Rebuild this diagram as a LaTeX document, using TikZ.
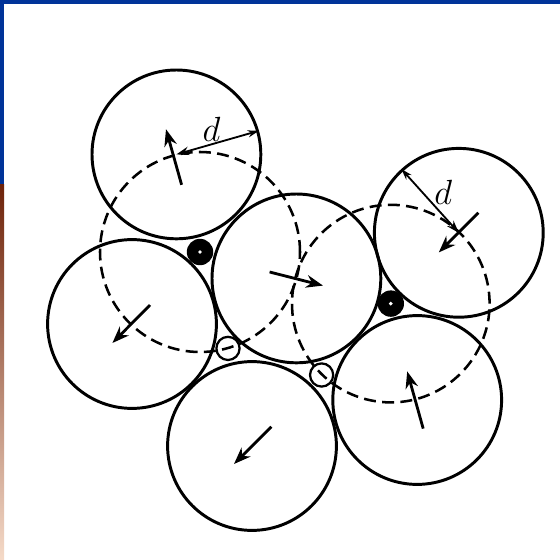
\documentclass[tikz,border=0pt]{standalone}
\usepackage{amsmath}
\usetikzlibrary{arrows.meta}

\definecolor{slideblue}{RGB}{0,51,153}
\definecolor{photobrown}{RGB}{110,35,10}
\definecolor{photomid}{RGB}{195,100,45}
\definecolor{photopeach}{RGB}{245,218,200}

\begin{document}
\begin{tikzpicture}[
    particle/.style={draw, circle, line width=2.1pt, minimum size=4.22cm, inner sep=0pt},
    bond/.style={line width=1.8pt, dash pattern=on 8.5pt off 4.5pt},
    vel/.style={-{Stealth[length=12pt,width=9pt]}, line width=2pt},
    dim/.style={{Stealth[length=9pt,width=6pt]}-{Stealth[length=8pt,width=5pt]}, line width=1.3pt},
    hole/.style={draw, circle, line width=1.6pt, minimum size=0.58cm, inner sep=0pt},
    fullhole/.style={fill=black, circle, minimum size=0.66cm, inner sep=0pt},
    lbl/.style={font=\fontsize{25}{28}\selectfont, inner sep=0pt}
]
\useasboundingbox (0,0) rectangle (14,-14);
% slide frame
\fill[slideblue] (0,0) rectangle (14,-0.11);
\fill[slideblue] (0,0) rectangle (0.1,-4.62);
\shade[top color=photobrown, middle color=photomid, bottom color=photopeach] (0,-4.62) rectangle (0.1,-14);

% particles
\node[particle] (T) at (4.41,-3.86) {};
\node[particle] (M) at (7.41,-6.96) {};
\node[particle] (R) at (11.47,-5.82) {};
\node[particle] (L) at (3.30,-8.10) {};
\node[particle] (B) at (6.30,-11.15) {};
\node[particle] (BR) at (10.43,-10.00) {};

% gaps between particles
\node[fullhole] (g1) at (5.00,-6.30) {};
\node[fullhole] (g2) at (9.77,-7.59) {};
\fill[white] (g1) circle (1.4pt);
\fill[white] (g2) circle (1.4pt);
\node[hole] (h1) at (5.70,-8.71) {};
\node[hole] (h2) at (8.04,-9.375) {};

% neighbour circles
\draw[bond] (g1) circle (2.5);
\draw[bond] (g2) circle (2.47);

% velocities
\draw[vel] ([shift={(0.13,-0.76)}]T.center) -- ([shift={(-0.26,0.63)}]T.center);
\draw[vel] ([shift={(-0.67,0.16)}]M.center) -- ([shift={(0.665,-0.18)}]M.center);
\draw[vel] ([shift={(0.49,0.50)}]R.center) -- ([shift={(-0.50,-0.49)}]R.center);
\draw[vel] ([shift={(0.45,0.475)}]L.center) -- ([shift={(-0.49,-0.475)}]L.center);
\draw[vel] ([shift={(0.485,0.48)}]B.center) -- ([shift={(-0.45,-0.45)}]B.center);
\draw[vel] ([shift={(0.15,-0.715)}]BR.center) -- ([shift={(-0.25,0.715)}]BR.center);

% radius d
\draw[dim] (T.center) -- (T.16);
\node[lbl] (dT) at (5.29,-3.23) {$d$};
\draw[dim] (R.center) -- (R.132);
\node[lbl] (dR) at (11.08,-4.81) {$d$};
\end{tikzpicture}
\end{document}
